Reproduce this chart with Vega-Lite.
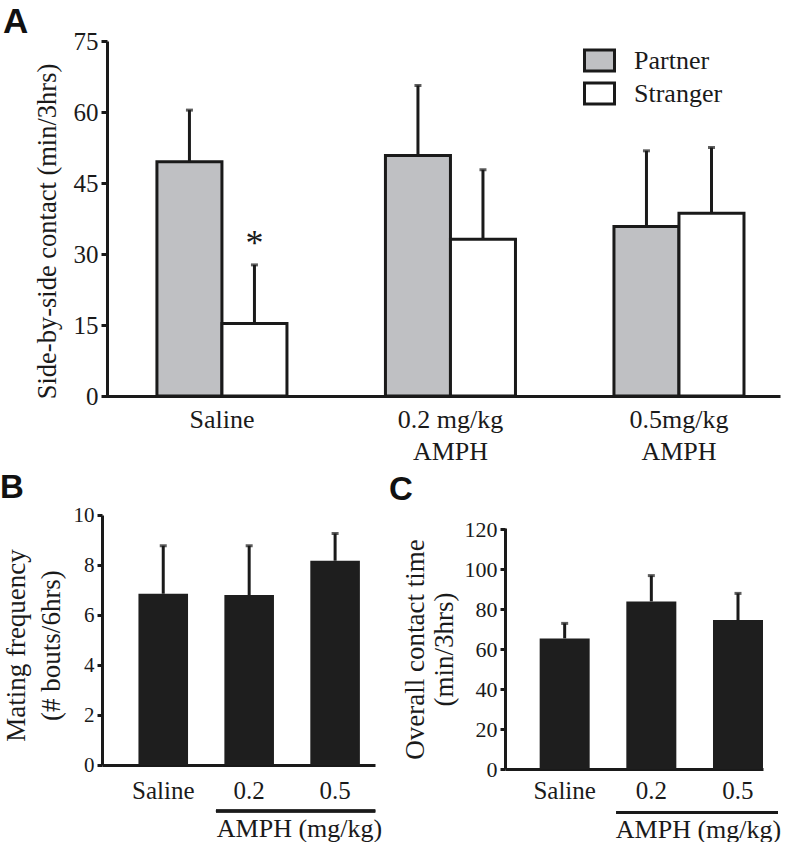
{
  "$schema": "https://vega.github.io/schema/vega-lite/v6.json",
  "background": "white",
  "padding": {"left": 0, "top": 5, "right": 0, "bottom": 0},
  "spacing": 8,
  "config": {
    "view": {"stroke": null},
    "font": "Liberation Serif",
    "axis": {
      "labelFont": "Liberation Serif",
      "titleFont": "Liberation Serif",
      "labelColor": "#1a1a1a",
      "titleColor": "#1a1a1a",
      "domainColor": "#1a1a1a",
      "tickColor": "#1a1a1a",
      "domainWidth": 3,
      "tickWidth": 3,
      "grid": false,
      "labelOverlap": false,
      "titleFontWeight": "normal"
    },
    "title": {
      "font": "Liberation Sans",
      "fontWeight": "bold",
      "anchor": "start",
      "frame": "bounds",
      "color": "#111111",
      "baseline": "alphabetic"
    }
  },
  "vconcat": [
    {
      "width": 678,
      "height": 355,
      "title": {"text": "A", "fontSize": 35, "dx": -31, "offset": -9, "dy": 2},
      "data": {
        "values": [
          {"condition": "Saline", "group": "Partner", "mean": 49.5, "upper": 60.4, "sig": ""},
          {"condition": "Saline", "group": "Stranger", "mean": 15.3, "upper": 27.7, "sig": "*"},
          {"condition": "0.2 mg/kg|AMPH", "group": "Partner", "mean": 50.8, "upper": 65.6, "sig": ""},
          {"condition": "0.2 mg/kg|AMPH", "group": "Stranger", "mean": 33.1, "upper": 47.8, "sig": ""},
          {"condition": "0.5mg/kg|AMPH", "group": "Partner", "mean": 35.8, "upper": 51.8, "sig": ""},
          {"condition": "0.5mg/kg|AMPH", "group": "Stranger", "mean": 38.6, "upper": 52.5, "sig": ""}
        ]
      },
      "encoding": {
        "x": {
          "field": "condition",
          "type": "nominal",
          "sort": ["Saline", "0.2 mg/kg|AMPH", "0.5mg/kg|AMPH"],
          "scale": {"paddingInner": 0.431, "paddingOuter": 0.199, "align": 0.604},
          "axis": {
            "title": null,
            "labelExpr": "split(datum.value, '|')",
            "labelAngle": 0,
            "ticks": false,
            "labelFontSize": 26,
            "labelPadding": 10,
            "labelLineHeight": 32
          }
        },
        "xOffset": {"field": "group", "type": "nominal", "sort": ["Partner", "Stranger"]}
      },
      "layer": [
        {
          "mark": {"type": "rule", "strokeWidth": 3, "color": "#1a1a1a"},
          "encoding": {
            "y": {
              "field": "mean", "type": "quantitative", "title": "Side-by-side contact (min/3hrs)",
              "scale": {"domain": [0, 75], "nice": false},
              "axis": {"values": [0, 15, 30, 45, 60, 75], "offset": -5, "tickSize": 6, "labelFontSize": 25, "titleFontSize": 26.5, "labelPadding": 3, "titlePadding": 12, "titleY": 190}
            },
            "y2": {"field": "upper"}
          }
        },
        {
          "mark": {"type": "tick", "orient": "horizontal", "size": 7, "thickness": 3, "color": "#1a1a1a"},
          "encoding": {
            "y": {
              "field": "upper", "type": "quantitative", "title": "Side-by-side contact (min/3hrs)",
              "scale": {"domain": [0, 75], "nice": false},
              "axis": {"values": [0, 15, 30, 45, 60, 75], "offset": -5, "tickSize": 6, "labelFontSize": 25, "titleFontSize": 26.5, "labelPadding": 3, "titlePadding": 12, "titleY": 190}
            }
          }
        },
        {
          "mark": {"type": "bar", "stroke": "#1a1a1a", "strokeWidth": 3},
          "encoding": {
            "y": {
              "field": "mean", "type": "quantitative", "title": "Side-by-side contact (min/3hrs)",
              "scale": {"domain": [0, 75], "nice": false},
              "axis": {"values": [0, 15, 30, 45, 60, 75], "offset": -5, "tickSize": 6, "labelFontSize": 25, "titleFontSize": 26.5, "labelPadding": 3, "titlePadding": 12, "titleY": 190}
            },
            "fill": {
              "field": "group",
              "type": "nominal",
              "scale": {"domain": ["Partner", "Stranger"], "range": ["#bfc0c3", "#ffffff"]},
              "legend": {
                "orient": "none",
                "legendX": 481,
                "legendY": 3,
                "title": null,
                "symbolType": "M-1,-0.7L1,-0.7L1,0.7L-1,0.7Z",
                "symbolSize": 900,
                "symbolStrokeColor": "#1a1a1a",
                "symbolStrokeWidth": 3,
                "symbolOpacity": 1,
                "labelFont": "Liberation Serif",
                "labelFontSize": 26,
                "labelColor": "#1a1a1a",
                "labelOffset": 18,
                "rowPadding": -2
              }
            }
          }
        },
        {
          "mark": {"type": "text", "fontSize": 36, "dy": -10, "baseline": "alphabetic", "color": "#1a1a1a", "font": "Liberation Serif"},
          "encoding": {
            "y": {
              "field": "upper", "type": "quantitative", "title": "Side-by-side contact (min/3hrs)",
              "scale": {"domain": [0, 75], "nice": false},
              "axis": {"values": [0, 15, 30, 45, 60, 75], "offset": -5, "tickSize": 6, "labelFontSize": 25, "titleFontSize": 26.5, "labelPadding": 3, "titlePadding": 12, "titleY": 190}
            },
            "text": {"field": "sig"}
          }
        }
      ]
    },
    {
      "spacing": 7,
      "hconcat": [
        {
          "width": 273,
          "height": 250,
          "title": {"text": "B", "fontSize": 33, "dx": -2, "offset": -1},
          "data": {
            "values": [
              {"dose": "Saline", "mean": 6.85, "upper": 8.77},
              {"dose": "0.2", "mean": 6.8, "upper": 8.77},
              {"dose": "0.5", "mean": 8.17, "upper": 9.26}
            ]
          },
          "encoding": {
            "x": {
              "field": "dose",
              "type": "nominal",
              "sort": ["Saline", "0.2", "0.5"],
              "scale": {"paddingInner": 0.423, "paddingOuter": 0.3, "align": 0.707},
              "axis": {
                "title": "AMPH (mg/kg)",
                "labelAngle": 0,
                "ticks": false,
                "labelFontSize": 25,
                "labelPadding": 13,
                "titleFontSize": 26,
                "titleX": 197,
                "titleY": 71,
                "titleAlign": "center",
                "titleBaseline": "alphabetic"
              }
            }
          },
          "layer": [
            {
              "mark": {"type": "rule", "strokeWidth": 3, "color": "#1a1a1a"},
              "encoding": {
                "y": {
                  "field": "mean", "type": "quantitative", "title": ["Mating frequency", "(# bouts/6hrs)"],
                  "scale": {"domain": [0, 10], "nice": false},
                  "axis": {"values": [0, 2, 4, 6, 8, 10], "tickSize": 5, "labelFontSize": 21, "titleFontSize": 27, "titleLineHeight": 35, "labelPadding": 3, "titlePadding": 8, "titleY": 130}
                },
                "y2": {"field": "upper"}
              }
            },
            {
              "mark": {"type": "tick", "orient": "horizontal", "size": 7, "thickness": 3, "color": "#1a1a1a"},
              "encoding": {
                "y": {
                  "field": "upper", "type": "quantitative", "title": ["Mating frequency", "(# bouts/6hrs)"],
                  "scale": {"domain": [0, 10], "nice": false},
                  "axis": {"values": [0, 2, 4, 6, 8, 10], "tickSize": 5, "labelFontSize": 21, "titleFontSize": 27, "titleLineHeight": 35, "labelPadding": 3, "titlePadding": 8, "titleY": 130}
                }
              }
            },
            {
              "mark": {"type": "bar", "fill": "#1e1e1e"},
              "encoding": {
                "y": {
                  "field": "mean", "type": "quantitative", "title": ["Mating frequency", "(# bouts/6hrs)"],
                  "scale": {"domain": [0, 10], "nice": false},
                  "axis": {"values": [0, 2, 4, 6, 8, 10], "tickSize": 5, "labelFontSize": 21, "titleFontSize": 27, "titleLineHeight": 35, "labelPadding": 3, "titlePadding": 8, "titleY": 130}
                }
              }
            },
            {
              "mark": {"type": "rule", "strokeWidth": 3, "color": "#1a1a1a"},
              "encoding": {
                "x": {"datum": "0.2", "bandPosition": -0.17},
                "x2": {"datum": "0.5", "bandPosition": 1.31},
                "y": {
                  "datum": -1.84, "type": "quantitative", "title": ["Mating frequency", "(# bouts/6hrs)"],
                  "axis": {"values": [0, 2, 4, 6, 8, 10], "tickSize": 5, "labelFontSize": 21, "titleFontSize": 27, "titleLineHeight": 35, "labelPadding": 3, "titlePadding": 8, "titleY": 130}
                }
              }
            }
          ]
        },
        {
          "width": 258,
          "height": 254,
          "title": {"text": "C", "fontSize": 33, "dx": -12, "offset": 8},
          "data": {
            "values": [
              {"dose": "Saline", "mean": 65.3, "upper": 72.8},
              {"dose": "0.2", "mean": 83.8, "upper": 96.7},
              {"dose": "0.5", "mean": 74.5, "upper": 87.8}
            ]
          },
          "encoding": {
            "x": {
              "field": "dose",
              "type": "nominal",
              "sort": ["Saline", "0.2", "0.5"],
              "scale": {"paddingInner": 0.423, "paddingOuter": 0.2, "align": 1},
              "axis": {
                "title": "AMPH (mg/kg)",
                "labelAngle": 0,
                "ticks": false,
                "labelFontSize": 25,
                "labelPadding": 9,
                "titleFontSize": 26,
                "titleX": 193,
                "titleY": 68,
                "titleAlign": "center",
                "titleBaseline": "alphabetic"
              }
            }
          },
          "layer": [
            {
              "mark": {"type": "rule", "strokeWidth": 3, "color": "#1a1a1a"},
              "encoding": {
                "y": {
                  "field": "mean", "type": "quantitative", "title": ["Overall contact time", "(min/3hrs)"],
                  "scale": {"domain": [0, 127], "nice": false},
                  "axis": {"values": [0, 20, 40, 60, 80, 100, 120], "tickSize": 5, "labelFontSize": 22, "titleFontSize": 27, "titleLineHeight": 29, "labelPadding": 3, "titlePadding": 6, "titleY": 134, "domainDash": [241, 40]}
                },
                "y2": {"field": "upper"}
              }
            },
            {
              "mark": {"type": "tick", "orient": "horizontal", "size": 7, "thickness": 3, "color": "#1a1a1a"},
              "encoding": {
                "y": {
                  "field": "upper", "type": "quantitative", "title": ["Overall contact time", "(min/3hrs)"],
                  "scale": {"domain": [0, 127], "nice": false},
                  "axis": {"values": [0, 20, 40, 60, 80, 100, 120], "tickSize": 5, "labelFontSize": 22, "titleFontSize": 27, "titleLineHeight": 29, "labelPadding": 3, "titlePadding": 6, "titleY": 134, "domainDash": [241, 40]}
                }
              }
            },
            {
              "mark": {"type": "bar", "fill": "#1e1e1e"},
              "encoding": {
                "y": {
                  "field": "mean", "type": "quantitative", "title": ["Overall contact time", "(min/3hrs)"],
                  "scale": {"domain": [0, 127], "nice": false},
                  "axis": {"values": [0, 20, 40, 60, 80, 100, 120], "tickSize": 5, "labelFontSize": 22, "titleFontSize": 27, "titleLineHeight": 29, "labelPadding": 3, "titlePadding": 6, "titleY": 134, "domainDash": [241, 40]}
                }
              }
            },
            {
              "mark": {"type": "rule", "strokeWidth": 3, "color": "#1a1a1a"},
              "encoding": {
                "x": {"datum": "0.2", "bandPosition": -0.2},
                "x2": {"datum": "0.5", "bandPosition": 1.3},
                "y": {
                  "datum": -21.7, "type": "quantitative", "title": ["Overall contact time", "(min/3hrs)"],
                  "axis": {"values": [0, 20, 40, 60, 80, 100, 120], "tickSize": 5, "labelFontSize": 22, "titleFontSize": 27, "titleLineHeight": 29, "labelPadding": 3, "titlePadding": 6, "titleY": 134, "domainDash": [241, 40]}
                }
              }
            }
          ]
        }
      ]
    }
  ]
}
